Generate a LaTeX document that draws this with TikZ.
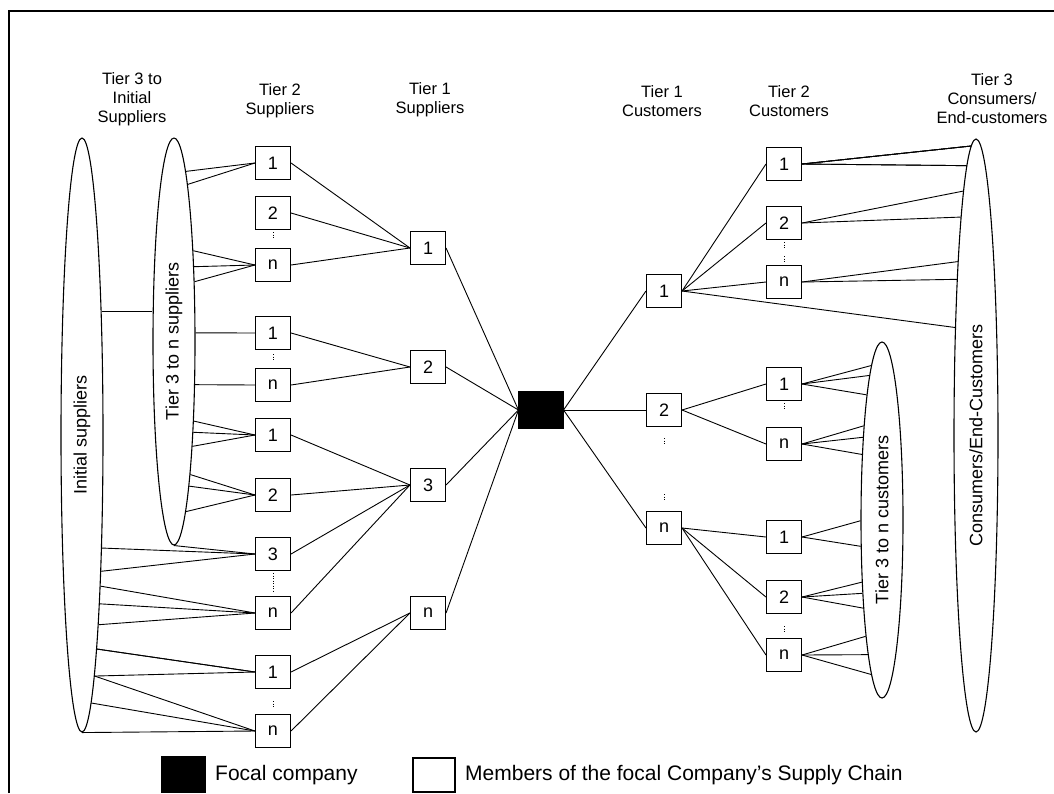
\documentclass[tikz,border=0pt]{standalone}
\usepackage{fontspec}
\setmainfont{Liberation Sans}
\usetikzlibrary{shapes.geometric}

\tikzset{
  member/.style={draw,line width=1.1pt,minimum width=35pt,minimum height=33pt,inner sep=0pt,font=\fontsize{18}{19}\selectfont},
  focalbox/.style={draw,fill=black,line width=1.1pt,minimum width=44pt,minimum height=36pt,inner sep=0pt},
  group/.style={draw,ellipse,line width=1.1pt,inner sep=0pt},
  grouplabel/.style={rotate=90,inner sep=0pt,font=\fontsize{18}{19}\selectfont},
  tierhead/.style={align=center,inner sep=0pt,font=\fontsize{16.5}{19}\selectfont},
  legendtext/.style={anchor=west,inner sep=0pt,font=\fontsize{21}{24}\selectfont},
  link/.style={line width=0.9pt},
  gap/.style={line width=0.7pt,dash pattern=on 1pt off 1.5pt},
}

\begin{document}
\begin{tikzpicture}[x=1pt,y=-1pt]
\useasboundingbox (0,0) rectangle (1054,793);
\draw[line width=1.3pt] (9,793) -- (9,11) -- (1054,11);

% column headings
\node[tierhead] (h1) at (132,99) {Tier 3 to\\Initial\\Suppliers};
\node[tierhead] (h2) at (280,101) {Tier 2\\Suppliers};
\node[tierhead] (h3) at (430,100) {Tier 1\\Suppliers};
\node[tierhead] (h4) at (662,101) {Tier 1\\Customers};
\node[tierhead] (h5) at (789,101) {Tier 2\\Customers};
\node[tierhead] (h6) at (992,99) {Tier 3\\Consumers/\\End-customers};

% supplier groups
\node[group,minimum width=42pt,minimum height=594pt] (isup) at (82,435) {};
\node[grouplabel] at (isup) {Initial suppliers};
\node[group,minimum width=42pt,minimum height=407pt] (t3sup) at (174,341.5) {};
\node[grouplabel] at (t3sup) {Tier 3 to n suppliers};

% customer groups
\node[group,minimum width=44pt,minimum height=593pt] (cons) at (976,435.5) {};
\node[grouplabel] at (cons) {Consumers/End-Customers};
\node[group,minimum width=42pt,minimum height=356pt] (t3cus) at (882,520) {};
\node[grouplabel] at (t3cus) {Tier 3 to n customers};

% tier 2 suppliers
\node[member] (s2a) at (273,163) {1};
\node[member] (s2b) at (273,213) {2};
\node[member] (s2c) at (273,265) {n};
\node[member] (s2d) at (273,333) {1};
\node[member] (s2e) at (273,385) {n};
\node[member] (s2f) at (273,435) {1};
\node[member] (s2g) at (273,495) {2};
\node[member] (s2h) at (273,554) {3};
\node[member] (s2i) at (273,613) {n};
\node[member] (s2j) at (273,672) {1};
\node[member] (s2k) at (273,731) {n};

% tier 1 suppliers
\node[member] (s1a) at (428,248) {1};
\node[member] (s1b) at (428,367) {2};
\node[member] (s1c) at (428,485) {3};
\node[member] (s1d) at (428,613) {n};

\node[focalbox] (focal) at (541,410) {};

% tier 1 customers
\node[member] (c1a) at (664,291) {1};
\node[member] (c1b) at (664,410) {2};
\node[member] (c1c) at (664,528) {n};

% tier 2 customers
\node[member] (c2a) at (784,164) {1};
\node[member] (c2b) at (784,223) {2};
\node[member] (c2c) at (784,282) {n};
\node[member] (c2d) at (784,384) {1};
\node[member] (c2e) at (784,444) {n};
\node[member] (c2f) at (784,537) {1};
\node[member] (c2g) at (784,597) {2};
\node[member] (c2h) at (784,655) {n};

% "more members" marks
\foreach \x/\y in {273/235, 273/357, 273/704, 784/245, 784/259, 784/406, 784/629, 664/441, 664/497}
  \draw[gap] (\x,\y-3) -- (\x,\y+3);
\draw[gap] (273,573) -- (273,591);

% initial suppliers to tier 3
\draw[link] (isup.81) -- (isup.81 -| t3sup.west);

% fans into tier 2 suppliers
\foreach \a in {86.77,85.48} \draw[link] (t3sup.\a) -- (s2a.west);
\foreach \a in {78.57,75.73,71.97} \draw[link] (t3sup.\a) -- (s2c.west);
\draw[link] (t3sup.22.06) -- (s2d.west);
\draw[link] (t3sup.-64.76) -- (s2e.west);
\foreach \a in {-76.14,-78.72,-80.7} \draw[link] (t3sup.\a) -- (s2f.west);
\foreach \a in {-83.58,-84.79,-86} \draw[link] (t3sup.\a) -- (s2g.west);
\draw[link] (t3sup.south) -- (s2h.west);
\foreach \a in {-80.8,-82} \draw[link] (isup.\a) -- (s2h.west);
\foreach \a in {-83.9,-84.6,-85.3} \draw[link] (isup.\a) -- (s2i.west);
\foreach \a in {-86.37,-86.94,-87.55} \draw[link] (isup.\a) -- (s2j.west);
\foreach \a in {-87.9,-88.66} \draw[link] (isup.\a) -- (s2k.west);
\draw[link] (isup.south) -- (s2k.west);

% tier 2 to tier 1 suppliers
\foreach \n in {s2a,s2b,s2c} \draw[link] (\n.east) -- (s1a.west);
\foreach \n in {s2d,s2e} \draw[link] (\n.east) -- (s1b.west);
\foreach \n in {s2f,s2g,s2h,s2i} \draw[link] (\n.east) -- (s1c.west);
\foreach \n in {s2j,s2k} \draw[link] (\n.east) -- (s1d.west);

% focal company
\foreach \n in {s1a,s1b,s1c,s1d} \draw[link] (\n.east) -- (focal.west);
\foreach \n in {c1a,c1b,c1c} \draw[link] (focal.east) -- (\n.west);

% tier 1 to tier 2 customers
\foreach \n in {c2a,c2b,c2c} \draw[link] (c1a.east) -- (\n.west);
\foreach \n in {c2d,c2e} \draw[link] (c1b.east) -- (\n.west);
\foreach \n in {c2f,c2g,c2h} \draw[link] (c1c.east) -- (\n.west);
\draw[link] (c1a.east) -- (cons.101.27);

% fans out of tier 2 customers
\foreach \a in {91,91.35,91.69,92.11,92.5} \draw[link] (c2a.east) -- (cons.\a);
\foreach \a in {93.47,94.45} \draw[link] (c2b.east) -- (cons.\a);
\foreach \a in {96.13,97.57} \draw[link] (c2c.east) -- (cons.\a);
\foreach \a in {94.11,95.89,97.48} \draw[link] (c2d.east) -- (t3cus.\a);
\foreach \a in {101.38,103.81,107.92} \draw[link] (c2e.east) -- (t3cus.\a);
\foreach \a in {182.7,231.37} \draw[link] (c2f.east) -- (t3cus.\a);
\foreach \a in {252.38,255.97,258.94} \draw[link] (c2g.east) -- (t3cus.\a);
\foreach \a in {262.64,264.31,266} \draw[link] (c2h.east) -- (t3cus.\a);

% legend
\node[focalbox,minimum width=43pt,minimum height=35pt] (legf) at (183.5,774.5) {};
\node[legendtext] (legft) at (215,775) {Focal company};
\node[member,minimum width=42pt,minimum height=34pt] (legm) at (434,775) {};
\node[legendtext] (legmt) at (465,775) {Members of the focal Company's Supply Chain};
\end{tikzpicture}
\end{document}
